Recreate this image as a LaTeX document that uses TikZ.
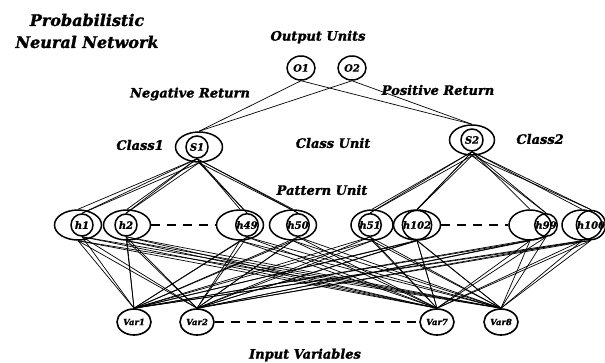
\documentclass[tikz,border=0pt]{standalone}
\usepackage{fontspec}
\setmainfont{DejaVu Serif}[BoldItalicFeatures={FakeBold=1.5}]
\usetikzlibrary{shapes.geometric}
\tikzset{
  lbl/.style={font=\fontsize{13}{14}\selectfont\bfseries\itshape, inner sep=0pt},
  unitc/.style={circle, draw, line width=1.5pt, minimum size=22pt, inner sep=0pt, font=\fontsize{10}{11}\selectfont\bfseries\itshape},
  unite/.style={ellipse, draw, line width=1.5pt, minimum width=47pt, minimum height=30pt, inner sep=0pt},
  varu/.style={ellipse, draw, line width=1.6pt, minimum width=34pt, minimum height=26pt, inner sep=0pt, font=\fontsize{8.5}{9}\selectfont\bfseries\itshape},
  wire/.style={line width=0.7pt},
  gap/.style={line width=1.8pt, dash pattern=on 9pt off 7pt}
}
\begin{document}
\begin{tikzpicture}[x=1pt,y=-1pt]
\useasboundingbox (0,0) rectangle (605,362);
% titles
\node[lbl, font=\fontsize{16}{22}\selectfont\bfseries\itshape, align=center] (title) at (87,31) {Probabilistic\\Neural Network};
\node[lbl] (outlbl) at (318,37) {Output Units};
\node[lbl] (neg) at (190,94) {Negative Return};
\node[lbl] (pos) at (438,90) {Positive Return};
\node[lbl] (c1lbl) at (140,145) {Class1};
\node[lbl] (cu) at (333,143) {Class Unit};
\node[lbl] (c2lbl) at (540,139) {Class2};
\node[lbl] (pu) at (322,190) {Pattern Unit};
\node[lbl] (iv) at (305,355) {Input Variables};
% output units
\node[unitc, minimum width=28pt, minimum height=24pt, ellipse] (O1) at (301,68) {O1};
\node[unitc, minimum width=28pt, minimum height=24pt, ellipse] (O2) at (352,68) {O2};
% class units
\node[unite] (S1e) at (199,147) {};
\node[unitc] (S1) at (197,147) {S1};
\node[unite, minimum width=45pt] (S2e) at (472,140) {};
\node[unitc] (S2) at (472,140) {S2};
% pattern units
\node[unite] (h1e) at (78,225) {};
\node[unitc] (h1) at (82,225) {h1};
\node[unite] (h2e) at (127,225) {};
\node[unitc] (h2) at (126,225) {h2};
\node[unite] (h49e) at (240,225) {};
\node[unitc] (h49) at (247,225) {h49};
\node[unite] (h50e) at (293,225) {};
\node[unitc] (h50) at (298,225) {h50};
\node[unite, minimum width=42pt] (h51e) at (372,225) {};
\node[unitc] (h51) at (370,225) {h51};
\node[unite] (h102e) at (417,225) {};
\node[unitc] (h102) at (417,225) {h102};
\node[unite, minimum width=42pt] (h99e) at (530,225) {};
\node[unitc] (h99) at (546,225) {h99};
\node[unite, minimum width=40pt] (h100e) at (582,225) {};
\node[unitc] (h100) at (591,225) {h100};
% input units
\node[varu] (V1) at (134,322) {Var1};
\node[varu] (V2) at (197,322) {Var2};
\node[varu] (V7) at (437,322) {Var7};
\node[varu] (V8) at (501,322) {Var8};
% gaps
\draw[gap] (h2e.east) -- (h49e.west);
\draw[gap] (h102e.east) -- (h99e.west);
\draw[gap] (V2.east) -- (V7.west);
% output to class
\foreach \o in {O1,O2}{
  \draw[wire] (\o.south) -- (S1e.north);
  \draw[wire] (\o.south) -- (S2e.north);
}
% class to pattern
\foreach \h in {h1,h2,h49,h50}{
  \draw[wire] (S1.south) -- (\h e.north);
  \draw[wire] (S1e.south) -- (\h.north);
  \draw[wire] (S1.south) -- (\h.north);
}
\foreach \h in {h51,h102,h99,h100}{
  \draw[wire] (S2.south) -- (\h e.north);
  \draw[wire] (S2e.south) -- (\h.north);
  \draw[wire] (S2.south) -- (\h.north);
}
% pattern to input
\foreach \h in {h1,h2,h49,h50,h51,h102,h99,h100}{
  \foreach \v in {V1,V2,V7,V8}{
    \draw[wire] (\h.south) -- (\v.north);
    \draw[wire] (\h e.south) -- (\v.north);
  }
}
\end{tikzpicture}
\end{document}
